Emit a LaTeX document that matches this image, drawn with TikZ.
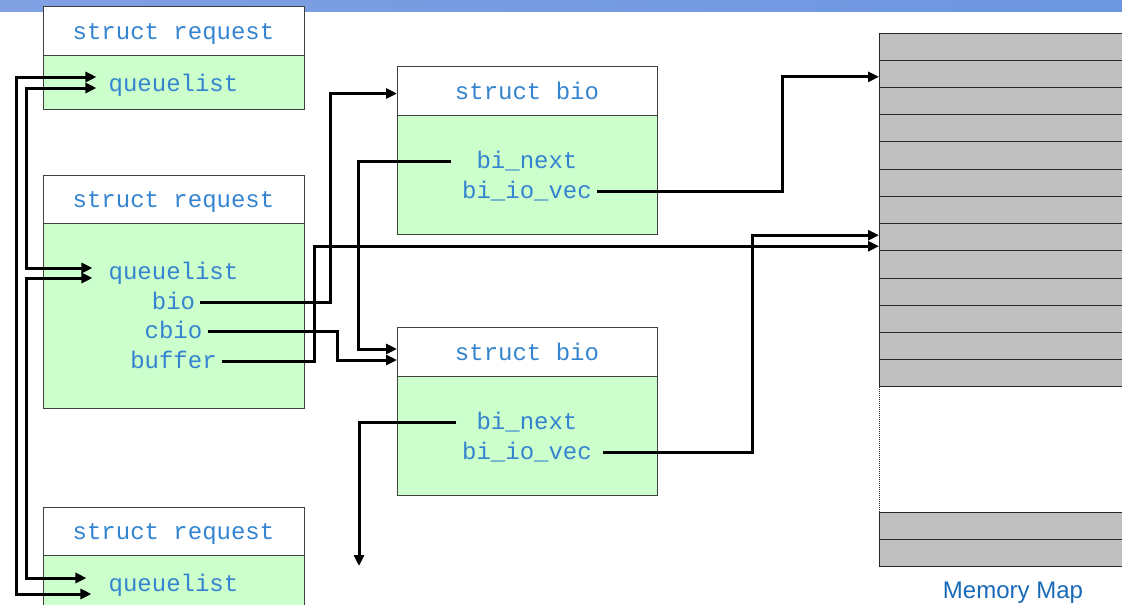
\documentclass[tikz,border=0pt]{standalone}
\usepackage{fontspec}
\setmainfont{Liberation Sans}
\setmonofont{Liberation Mono}
\usepackage{tikz}
\usetikzlibrary{arrows.meta,positioning}
\definecolor{fld_blue}{RGB}{52, 132, 208}
\definecolor{map_blue}{RGB}{25, 105, 185}
\definecolor{fld_green}{RGB}{204, 255, 204}
\definecolor{box_edge}{RGB}{64, 64, 64}
\definecolor{mem_gray}{RGB}{192, 192, 192}
\definecolor{mem_edge}{RGB}{40, 40, 40}
\definecolor{bar_l}{RGB}{128, 160, 226}
\definecolor{bar_r}{RGB}{108, 150, 224}
\tikzset{
  hdr/.style = {draw=box_edge, fill=white, line width=0.8pt, inner sep=0pt, outer sep=0pt,
  minimum height=49pt, font=\ttfamily\fontsize{24}{28}\selectfont, text=fld_blue,
  text height=17pt, text depth=0pt},
  body/.style = {draw=box_edge, fill=fld_green, line width=0.8pt, inner sep=0pt, outer sep=0pt},
  fld/.style = {inner xsep=5pt, inner ysep=0pt, font=\ttfamily\fontsize{24}{28}\selectfont,
  text=fld_blue, text height=14pt, text depth=0pt},
  memrow/.style = {draw=mem_edge, fill=mem_gray, line width=1pt, minimum width=260pt,
  minimum height=27.23pt, inner sep=0pt, outer sep=0pt, anchor=north west}
}

\begin{document}
\begin{tikzpicture}[x=1pt, y=-1pt,
        link/.style={line width=3pt, -{Triangle[length=11pt,width=10pt]}},
        dlink/.style={line width=3pt, {Triangle[length=11pt,width=10pt]}-{Triangle[length=11pt,width=10pt]}},
        gap/.style={densely dotted, line width=1pt, mem_edge}]
    \useasboundingbox (0,0) rectangle (1122,605);
    \shade[left color=bar_l, right color=bar_r] (0,0) rectangle (1122,11);

    % requests
    \node[hdr, minimum width=261pt, anchor=north west] (r1h) at (43,6) {struct request};
    \node[body, minimum width=261pt, minimum height=54pt, below=0pt of r1h] (r1b) {};
    \node[fld] (r1q) at (173.5,84) {queuelist};

    \node[hdr, minimum width=261pt, minimum height=48pt, anchor=north west] (r2h) at (43,175) {struct request};
    \node[body, minimum width=261pt, minimum height=185pt, below=0pt of r2h] (r2b) {};
    \node[fld] (r2q) at (173.5,272) {queuelist};
    \node[fld] (r2bio) at (173.5,302) {bio};
    \node[fld] (r2cbio) at (173.5,331) {cbio};
    \node[fld] (r2buf) at (173.5,361) {buffer};

    \node[hdr, minimum width=261pt, minimum height=48pt, anchor=north west] (r3h) at (43,507) {struct request};
    \node[body, minimum width=261pt, minimum height=70pt, below=0pt of r3h] (r3b) {};
    \node[fld] (r3q) at (173.5,584) {queuelist};

    % bios
    \node[hdr, minimum width=260pt, anchor=north west] (b1h) at (397,66) {struct bio};
    \node[body, minimum width=260pt, minimum height=119pt, below=0pt of b1h] (b1b) {};
    \node[fld] (b1next) at (527,161) {bi\_next};
    \node[fld] (b1vec) at (527,191) {bi\_io\_vec};

    \node[hdr, minimum width=260pt, anchor=north west] (b2h) at (397,327) {struct bio};
    \node[body, minimum width=260pt, minimum height=119pt, below=0pt of b2h] (b2b) {};
    \node[fld] (b2next) at (527,422) {bi\_next};
    \node[fld] (b2vec) at (527,452) {bi\_io\_vec};

    % memory map
    \foreach \i in {0,...,12}
        \node[memrow] (m\i) at (879,{33+27.23*\i}) {};
    \node[memrow] (m13) at (879,512) {};
    \node[memrow] (m14) at (879,539.23) {};
    \draw[gap] (m12.south west) -- (m13.north west);
    \node[font=\fontsize{24}{28}\selectfont, text=map_blue, anchor=base] (mmap) at (1013,598) {Memory Map};

    % queuelist links
    \draw[dlink] ([shift={(-7pt,7pt)}]r1q.west) -- ++(-80,0) |- ([shift={(-12pt,-10pt)}]r3q.west);
    \draw[dlink] ([shift={(-7pt,-4pt)}]r1q.west) -- ++(-70,0) |- ([shift={(-11pt,4pt)}]r2q.west);
    \draw[dlink] ([shift={(-11pt,-6pt)}]r2q.west) -- ++(-66,0) |- ([shift={(-17pt,6pt)}]r3q.west);

    % pointers
    \draw[link] (r2bio.east) -- ++(130,0) |- ([yshift=-3pt]b1h.west);
    \draw[link] (r2cbio.east) -- ++(130,0) |- ([yshift=-8.5pt]b2h.west);
    \draw[link] (r2buf.east) -- ++(93,0) |- ([yshift=-9pt]m7.west);
    \draw[link] ([xshift=-20pt]b1next.west) -- ++(-93,0) |- ([yshift=2.5pt]b2h.west);
    \draw[link] (b1vec.east) -- ++(185,0) |- ([yshift=-3pt]m1.west);
    \draw[link] ([xshift=6pt]b2vec.east) -- ++(149,0) |- ([yshift=2pt]m7.west);
    \coordinate (bnil) at (359,566);
    \draw[link] ([xshift=-15pt]b2next.west) -| (bnil);
\end{tikzpicture}
\end{document}
